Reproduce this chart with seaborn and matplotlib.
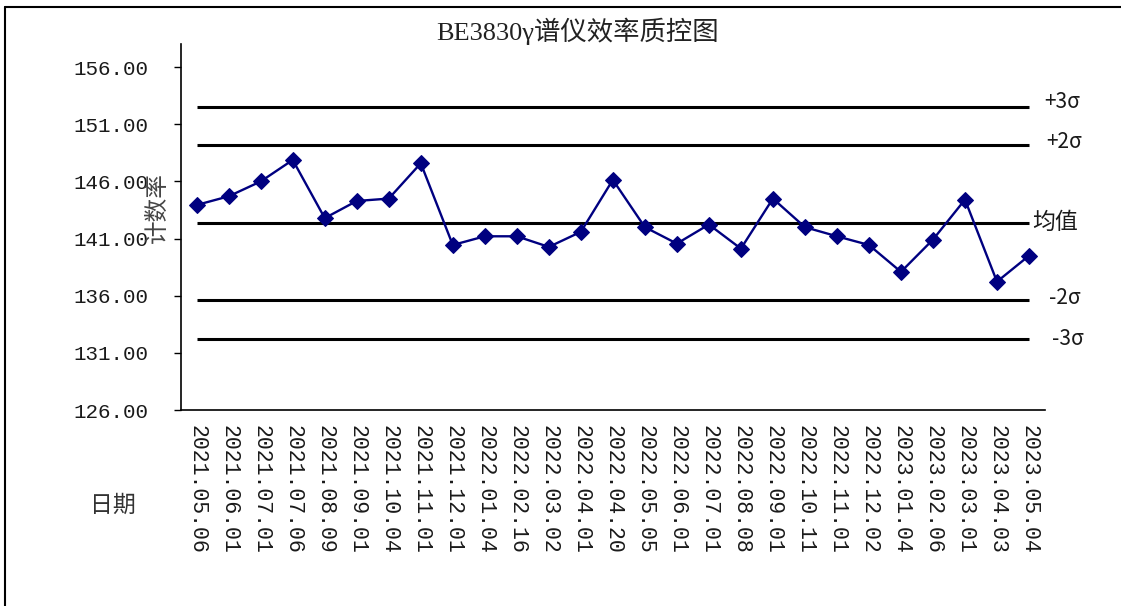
import matplotlib
matplotlib.use("Agg")
import pandas as pd
import matplotlib.pyplot as plt
import seaborn as sns
from matplotlib.lines import Line2D
from matplotlib import transforms

dates = [
    "2021.05.06", "2021.06.01", "2021.07.01", "2021.07.06", "2021.08.09",
    "2021.09.01", "2021.10.04", "2021.11.01", "2021.12.01", "2022.01.04",
    "2022.02.16", "2022.03.02", "2022.04.01", "2022.04.20", "2022.05.05",
    "2022.06.01", "2022.07.01", "2022.08.08", "2022.09.01", "2022.10.11",
    "2022.11.01", "2022.12.02", "2023.01.04", "2023.02.06", "2023.03.01",
    "2023.04.03", "2023.05.04",
]
rate = [
    143.94, 144.70, 146.00, 147.88, 142.79, 144.29, 144.50, 147.59, 140.44,
    141.20, 141.20, 140.27, 141.59, 146.14, 142.00, 140.56, 142.23, 140.12,
    144.50, 142.00, 141.20, 140.44, 138.09, 140.91, 144.41, 137.23, 139.50,
]
ctrl_labels = ["+3σ", "+2σ", "均值", "-2σ", "-3σ"]
ctrl_values = [152.55, 149.17, 142.38, 135.60, 132.21]
y_ticks = [126, 131, 136, 141, 146, 151, 156]

sns.set_style("white")
plt.rcParams['font.family'] = ['Noto Sans CJK SC', 'DejaVu Sans']

W, H = 1121, 606
fig = plt.figure(figsize=(W / 100, H / 100), dpi=100)
ax = fig.add_axes([180.7 / W, 1 - 410 / H, (1045 - 180.7) / W, (410 - 44.3) / H])

df = pd.DataFrame({"pos": range(len(dates)), "rate": rate})
sns.lineplot(data=df, x="pos", y="rate", ax=ax, color="#000080", linewidth=1.7,
             marker="D", markersize=8.5, markeredgecolor="#000080", zorder=3)

# control lines
ax.hlines(ctrl_values, 0, len(dates) - 1, colors="black", linewidth=2.2, zorder=2)
trans = transforms.blended_transform_factory(fig.transFigure, ax.transData)
label_x = [1044, 1046, 1032, 1049, 1052]
label_dy = [0.4, 0.3, 0.0, 0.2, 0.0]
for lab, val, lx, dy in zip(ctrl_labels, ctrl_values, label_x, label_dy):
    ax.text(lx / W, val + dy, lab, transform=trans, ha="left", va="center",
            fontsize=15 if "σ" in lab else 16.5, color="#1a1a1a", clip_on=False)

ax.set_xlim(-0.5, len(dates) - 0.5)
ax.set_ylim(126, 158)
ax.set_yticks(y_ticks)
ax.set_yticklabels([f"{v:.2f}" for v in y_ticks], family="Liberation Mono",
                   fontsize=15, color="#1a1a1a")
ax.set_xticks(range(len(dates)))
ax.set_xticklabels(dates, rotation=-90, family="Liberation Mono", fontsize=15.5,
                   color="#1a1a1a", va="top", ha="center")
ax.set_xticks([i - 0.5 for i in range(len(dates) + 1)], minor=True)
ax.tick_params(axis="x", which="major", length=0, pad=11)
ax.tick_params(axis="x", which="minor", direction="in", length=5, width=1, color="black")
ax.tick_params(axis="y", direction="out", length=5, width=1, color="black", pad=18, left=True)
ax.set_xlabel("")
ax.set_ylabel("")
for side in ["top", "right"]:
    ax.spines[side].set_visible(False)
for side in ["left", "bottom"]:
    ax.spines[side].set_color("black")
    ax.spines[side].set_linewidth(1.2)

fig.text(578 / W, 1 - 31 / H, "BE3830γ谱仪效率质控图", ha="center", va="center",
         fontsize=19, color="#222222", family=["Liberation Serif", "Noto Sans CJK SC"])
fig.text(157 / W, 1 - 208 / H, "计数率", rotation=90, ha="center", va="center",
         fontsize=17, color="#444444")
fig.text(113 / W, 1 - 505 / H, "日期", ha="center", va="center", fontsize=16.5, color="#333333")

# outer frame (top and left edges only)
fig.add_artist(Line2D([5 / W, 1], [1 - 7 / H, 1 - 7 / H], transform=fig.transFigure,
                      color="black", linewidth=1.5))
fig.add_artist(Line2D([5 / W, 5 / W], [0, 1 - 7 / H], transform=fig.transFigure,
                      color="black", linewidth=1.5))

fig.savefig("out.png", dpi=100)
